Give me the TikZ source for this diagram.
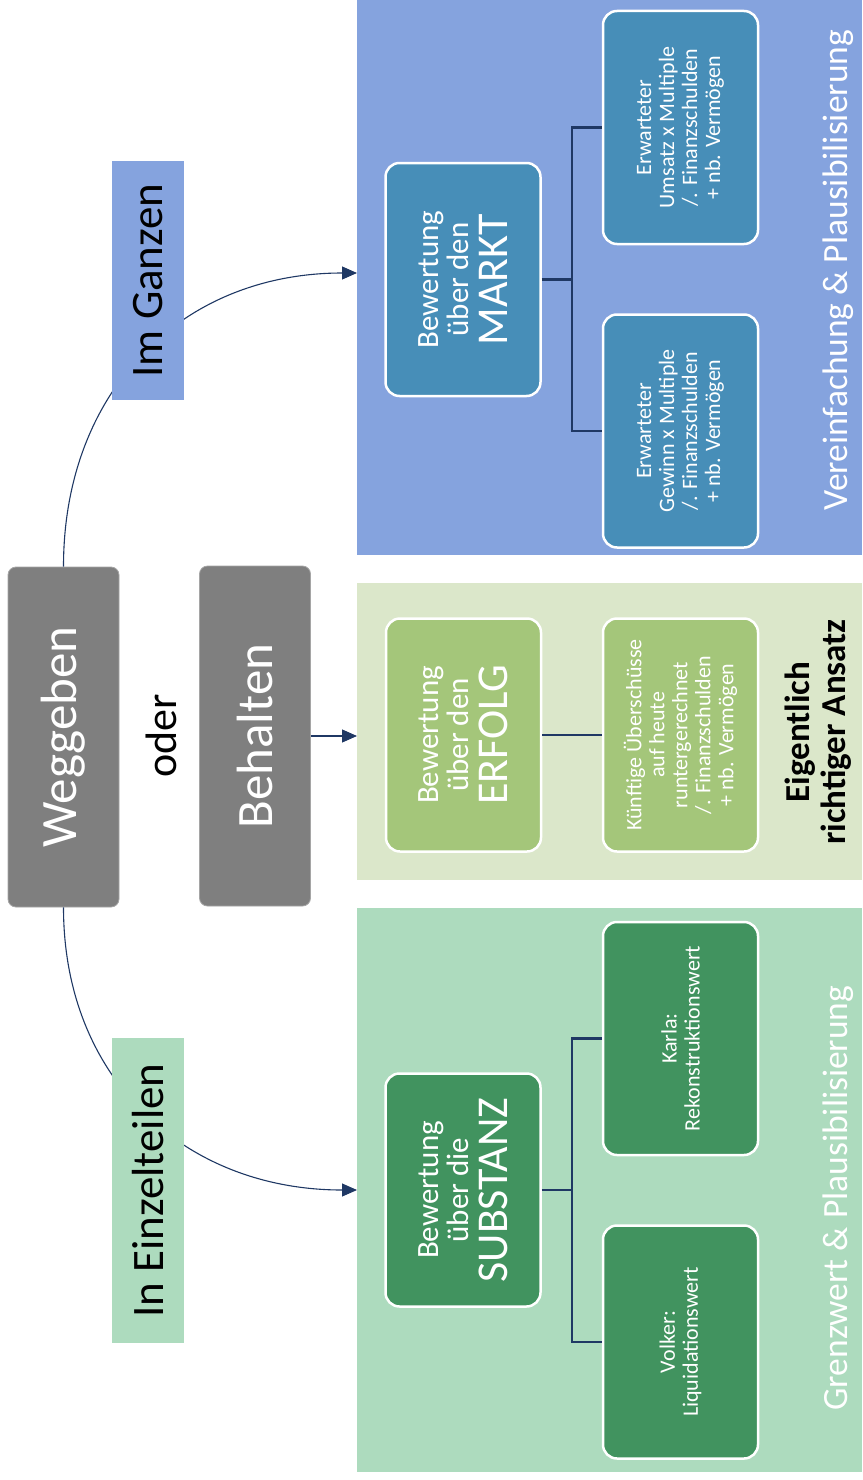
\documentclass[tikz,border=0pt]{standalone}
\usepackage{fontspec}
\setmainfont{Carlito}
\usepackage{xcolor}
\usepackage{tikz}
\usetikzlibrary{arrows.meta, positioning, calc}
\definecolor{marktbg}{HTML}{85A3DE}
\definecolor{marktbox}{HTML}{478EB8}
\definecolor{erfolgbg}{HTML}{DBE7CA}
\definecolor{erfolgbox}{HTML}{A4C67A}
\definecolor{substbg}{HTML}{ADDBBE}
\definecolor{substbox}{HTML}{41935F}
\definecolor{choicegrey}{HTML}{7F7F7F}
\definecolor{linenavy}{HTML}{1F3864}

\begin{document}
\begin{tikzpicture}[x=1pt, y=1pt,
    panel/.style={rectangle, fill=#1, inner sep=0pt, outer sep=0pt, anchor=north west, minimum width=505pt},
    box/.style={rectangle, rounded corners=14pt, draw=white, line width=2.5pt, fill=#1, rotate=90, minimum width=233pt, minimum height=155pt, text=white, align=center, font=\fontsize{22}{23}\selectfont},
    head/.style={box=#1, font=\fontsize{31}{30}\selectfont},
    choice/.style={rectangle, rounded corners=8pt, fill=choicegrey, draw=choicegrey!70!white, line width=0.8pt, rotate=90, minimum width=340pt, minimum height=111pt, text=white, font=\fontsize{51}{51}\selectfont},
    tag/.style={rectangle, fill=#1, rotate=90, minimum height=72pt, font=\fontsize{45}{45}\selectfont},
    bus/.style={draw=linenavy, line width=2.5pt},
    way/.style={draw=linenavy, line width=1.1pt, -{Triangle[length=15pt,width=13pt]}},
    side/.style={rotate=90, text=white, font=\fontsize{35.5}{36}\selectfont},
]
\useasboundingbox (0,0) rectangle (862,-1480);

\node[panel=marktbg, minimum height=555pt] (mktpanel) at (357,0) {};
\node[panel=erfolgbg, minimum height=297pt] (erfpanel) at (357,-583) {};
\node[panel=substbg, minimum height=564pt] (subpanel) at (357,-908) {};

\node[choice] (weggeben) at (63.5,-737) {Weggeben};
\node[choice] (behalten) at (255,-736) {Behalten};
\node[rotate=90, font=\fontsize{44}{44}\selectfont] (oder) at (161,-736) {oder};

\draw[way] (weggeben.east) to[out=90, in=180, looseness=1.08] ($(mktpanel.west)+(0,4.5)$);
\draw[way] (weggeben.west) to[out=-90, in=180, looseness=1.08] (subpanel.west);
\draw[way] (behalten.south) -- (behalten.south -| erfpanel.west);

\node[tag=marktbg, minimum width=239pt] (ganzen) at (148,-280.5) {Im Ganzen};
\node[tag=substbg, minimum width=305pt] (einzel) at (148,-1190.5) {In Einzelteilen};

\node[head=marktbox] (markt) at (463,-279.5) {Bewertung\\über den\\[9pt]{\fontsize{44}{44}\selectfont MARKT}};
\node[box=marktbox] (umsatz) at (680.5,-127.5) {Erwarteter\\Umsatz x Multiple\\/. Finanzschulden\\+ nb. Vermögen};
\node[box=marktbox] (gewinn) at (680.5,-431) {Erwarteter\\Gewinn x Multiple\\/. Finanzschulden\\+ nb. Vermögen};
\draw[bus] (markt.south) -- ++(30,0) |- (umsatz.north);
\draw[bus] (markt.south) -- ++(30,0) |- (gewinn.north);

\node[head=erfolgbox] (erfolg) at (463.5,-735) {Bewertung\\über den\\[9pt]{\fontsize{44}{44}\selectfont ERFOLG}};
\node[box=erfolgbox] (ueberschuss) at (680.5,-735) {Künftige Überschüsse\\auf heute\\runtergerechnet\\/. Finanzschulden\\+ nb. Vermögen};
\draw[bus] (erfolg.south) -- (ueberschuss.north);

\node[head=substbox] (substanz) at (463,-1190) {Bewertung\\über die\\[9pt]{\fontsize{44}{44}\selectfont SUBSTANZ}};
\node[box=substbox] (karla) at (680.5,-1038.5) {Karla:\\Rekonstruktionswert};
\node[box=substbox] (volker) at (680.5,-1342) {Volker:\\Liquidationswert};
\draw[bus] (substanz.south) -- ++(30,0) |- (karla.north);
\draw[bus] (substanz.south) -- ++(30,0) |- (volker.north);

\node[side] (vereinf) at (838,-270) {Vereinfachung \& Plausibilisierung};
\node[side] (grenz) at (838,-1198) {Grenzwert \& Plausibilisierung};
\node[rotate=90, align=center, font=\bfseries\fontsize{35}{36}\selectfont] (ansatz) at (818,-732) {Eigentlich\\richtiger Ansatz};
\end{tikzpicture}
\end{document}
